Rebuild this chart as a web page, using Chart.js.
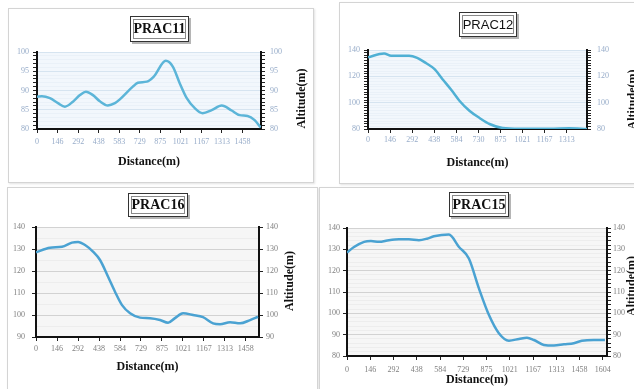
<!DOCTYPE html>
<html>
<head>
<meta charset="utf-8">
<script src="https://cdn.jsdelivr.net/npm/chart.js@4.4.0/dist/chart.umd.min.js"></script>
<style>
  body { margin: 0; width: 634px; height: 389px; overflow: hidden; position: relative; background: #fff; }
  .panel { position: absolute; box-sizing: border-box; border: 1px solid #d4d4d4; background: #fff; box-shadow: 1px 1px 2px #e2e2e2; }
  .panel canvas { position: absolute; left: 0; top: 0; }
  .ttl { position: absolute; box-sizing: border-box; border: 1px solid #333; background: #fff;
         box-shadow: inset 0 0 0 2px #fff, inset 0 0 0 3px #8a8a8a, 2px 2px 0 #b5b5b5;
         display: flex; align-items: center; justify-content: center; color: #111; }
  .serif { font: bold 14px "Liberation Serif", serif; }
  .sans { font: 13px "Liberation Sans", sans-serif; }
</style>
</head>
<body>
<div class="panel" id="p1"><canvas id="c1"></canvas></div>
<div class="panel" id="p2"><canvas id="c2"></canvas></div>
<div class="panel" id="p3"><canvas id="c3"></canvas></div>
<div class="panel" id="p4"><canvas id="c4"></canvas></div>
<div class="ttl serif" style="left:130px;top:16px;width:59px;height:26px">PRAC11</div>
<div class="ttl sans" style="left:459px;top:12px;width:58px;height:25px">PRAC12</div>
<div class="ttl serif" style="left:128px;top:193px;width:60px;height:24px">PRAC16</div>
<div class="ttl serif" style="left:449px;top:192px;width:60px;height:25px">PRAC15</div>
<script>
// ---- data ----
// PRAC11
const prac11Dist = [0, 35, 92, 149, 198, 255, 305, 347, 397, 446, 503, 553, 588, 680, 716, 780, 829, 914, 964, 1013, 1063, 1120, 1176, 1240, 1311, 1382, 1439, 1495, 1545, 1588];
const prac11Alt = [88.4, 88.5, 88, 86.7, 85.8, 87.1, 88.8, 89.7, 88.8, 87.2, 86.1, 86.7, 87.7, 91, 92, 92.3, 93.6, 97.7, 96.2, 91.9, 88, 85.4, 84.1, 84.9, 86.1, 84.8, 83.6, 83.4, 82.3, 80.4];
const prac11XTicks = [0, 146, 292, 438, 583, 729, 875, 1021, 1167, 1313, 1458];
const prac11YTicks = [80, 85, 90, 95, 100];

// PRAC12
const prac12Dist = [0, 106, 153, 272, 325, 385, 438, 491, 551, 604, 670, 737, 803, 889, 1002, 1200, 1330, 1447];
const prac12Alt = [134.4, 137.4, 135.7, 135.7, 134, 129.9, 125.6, 118, 109.6, 101.5, 93.9, 88.4, 83.8, 80.8, 80.2, 80.2, 80.5, 80];
const prac12XTicks = [0, 146, 292, 438, 584, 730, 875, 1021, 1167, 1313];
const prac12YTicks = [80, 100, 120, 140];

// PRAC16
const prac16Dist = [0, 97, 181, 250, 292, 341, 396, 445, 501, 549, 598, 654, 723, 793, 862, 918, 966, 1022, 1092, 1161, 1231, 1279, 1349, 1418, 1488, 1543];
const prac16Alt = [128.5, 130.6, 131, 132.9, 133.2, 131.8, 128.8, 125, 117.4, 110.6, 104.5, 100.8, 98.8, 98.5, 97.7, 96.5, 98.6, 100.8, 100, 99, 96.2, 95.8, 96.7, 96.2, 97.7, 99.2];
const prac16XTicks = [0, 146, 292, 438, 584, 729, 875, 1021, 1167, 1313, 1458];
const prac16YTicks = [90, 100, 110, 120, 130, 140];

// PRAC15
const prac15Dist = [0, 44, 107, 150, 200, 263, 326, 388, 451, 501, 545, 639, 702, 764, 827, 890, 952, 1015, 1078, 1128, 1172, 1234, 1297, 1360, 1422, 1472, 1547, 1617];
const prac15Alt = [128.5, 131.1, 133.5, 133.9, 133.5, 134.3, 134.7, 134.7, 134.3, 135, 136.1, 136.9, 131.1, 125.7, 111.7, 99.2, 90.7, 87.2, 88, 88.6, 87.5, 85.2, 84.9, 85.5, 86, 87.1, 87.5, 87.5];
const prac15XTicks = [0, 146, 292, 438, 584, 729, 875, 1021, 1167, 1313, 1458, 1604];
const prac15YTicks = [80, 90, 100, 110, 120, 130, 140];

// plot area background + axis titles
const profilePlugin = {
    id: 'profile',
    beforeDraw(chart, args, opts) {
        const a = chart.chartArea, c = chart.ctx;
        c.save();
        c.fillStyle = opts.bg;
        c.fillRect(a.left, a.top, a.right - a.left, a.bottom - a.top);
        c.restore();
    },
    afterDraw(chart, args, opts) {
        const a = chart.chartArea, c = chart.ctx;
        c.save();
        c.fillStyle = '#111';
        c.font = 'bold 12px "Liberation Serif", serif';
        c.textAlign = 'center';
        c.textBaseline = 'middle';
        c.fillText('Distance(m)', (a.left + a.right) / 2, a.bottom + opts.xTitleDy);
        c.translate(a.right + opts.yTitleDx, (a.top + a.bottom) / 2 + opts.yTitleDy);
        c.rotate(-Math.PI / 2);
        c.fillText('Altitude(m)', 0, 0);
        c.restore();
    }
};

function makeProfile(cfg) {
    const panel = document.getElementById(cfg.panel);
    panel.style.left = cfg.box.x + 'px';
    panel.style.top = cfg.box.y + 'px';
    panel.style.width = cfg.box.w + 'px';
    panel.style.height = cfg.box.h + 'px';
    const cw = cfg.box.w - 2, ch = cfg.box.h - 2;
    const ox = cfg.box.x + 1, oy = cfg.box.y + 1;
    const canvas = document.getElementById(cfg.canvas);
    canvas.width = cw;
    canvas.height = ch;

    const leftW = cfg.plot.l - ox;
    const rightW = ox + cw - cfg.plot.r;
    const topPad = cfg.plot.t - oy;
    const bottomH = oy + ch - cfg.plot.b;

    const yMin = cfg.yTicks[0], yMax = cfg.yTicks[cfg.yTicks.length - 1];
    const allY = [];
    for (let v = yMin; v <= yMax + 1e-9; v += cfg.minorStep) allY.push(v);
    const isMajor = v => cfg.yTicks.indexOf(v) !== -1;

    const blue = cfg.theme === 'blue';
    const labelColor = blue ? '#97acc9' : '#808080';
    const majorGrid = blue ? '#d6e4f0' : '#d2d2d2';
    const minorGrid = blue ? 'rgba(214,228,240,0.3)' : '#ededed';
    const tickFont = { family: '"Liberation Serif", serif', size: 8 };

    const yAxis = (pos, minorTicks, pad, width) => ({
        type: 'linear',
        position: pos,
        min: yMin,
        max: yMax,
        afterBuildTicks: s => { s.ticks = allY.map(v => ({ value: v })); },
        afterFit: s => { s.width = width; },
        border: { color: '#111', width: 2 },
        grid: {
            drawOnChartArea: pos === 'left',
            color: ctx => isMajor(ctx.tick.value) ? majorGrid : minorGrid,
            tickLength: 4,
            tickColor: ctx => (minorTicks || isMajor(ctx.tick.value)) ? '#222' : 'rgba(0,0,0,0)'
        },
        ticks: {
            autoSkip: false,
            padding: pad,
            color: labelColor,
            font: tickFont,
            callback: v => isMajor(v) ? String(v) : ''
        }
    });

    return new Chart(canvas, {
        type: 'line',
        data: {
            datasets: [{
                data: cfg.dist.map((d, i) => ({ x: d, y: cfg.alt[i] })),
                borderColor: cfg.lineColor,
                borderWidth: 2.5,
                pointRadius: 0,
                fill: false,
                cubicInterpolationMode: 'monotone',
                yAxisID: 'y'
            }]
        },
        options: {
            responsive: false,
            animation: false,
            devicePixelRatio: 1,
            layout: { padding: { top: topPad, left: 0, right: 0, bottom: 0 } },
            plugins: {
                legend: { display: false },
                tooltip: { enabled: false },
                profile: { bg: blue ? '#f2f7fc' : '#f6f6f6', xTitleDy: cfg.xTitleDy, yTitleDx: cfg.yTitleDx, yTitleDy: cfg.yTitleDy }
            },
            scales: {
                x: {
                    type: 'linear',
                    min: 0,
                    max: cfg.xMax,
                    afterBuildTicks: s => { s.ticks = cfg.xTicks.map(v => ({ value: v })); },
                    afterFit: s => { s.height = bottomH; },
                    border: { color: '#111', width: 2 },
                    grid: { drawOnChartArea: false, tickLength: 4, tickColor: '#222' },
                    ticks: {
                        autoSkip: false,
                        maxRotation: 0,
                        padding: cfg.xPad,
                        color: labelColor,
                        font: tickFont,
                        callback: v => String(v)
                    }
                },
                y: yAxis('left', cfg.leftMinor, cfg.yPadL, leftW),
                y2: yAxis('right', cfg.rightMinor, cfg.yPadR, rightW)
            }
        },
        plugins: [profilePlugin]
    });
}

makeProfile({
    panel: 'p1', canvas: 'c1', theme: 'blue', lineColor: '#5cb5d8',
    box: { x: 8, y: 8, w: 306, h: 175 }, plot: { l: 37, t: 52, r: 261, b: 129 },
    dist: prac11Dist, alt: prac11Alt, xTicks: prac11XTicks, yTicks: prac11YTicks,
    xMax: 1590, minorStep: 1, leftMinor: true, rightMinor: true,
    yPadL: 4, yPadR: 5, xPad: 4, xTitleDy: 33, yTitleDx: 41, yTitleDy: 8
});
makeProfile({
    panel: 'p2', canvas: 'c2', theme: 'blue', lineColor: '#4fb0d4',
    box: { x: 339, y: 2, w: 310, h: 182 }, plot: { l: 368, t: 50, r: 587, b: 129 },
    dist: prac12Dist, alt: prac12Alt, xTicks: prac12XTicks, yTicks: prac12YTicks,
    xMax: 1447, minorStep: 2, leftMinor: true, rightMinor: true,
    yPadL: 4, yPadR: 6, xPad: 2, xTitleDy: 34, yTitleDx: 46, yTitleDy: 10
});
makeProfile({
    panel: 'p3', canvas: 'c3', theme: 'gray', lineColor: '#4aa2d2',
    box: { x: 7, y: 187, w: 311, h: 210 }, plot: { l: 36, t: 227, r: 259, b: 337 },
    dist: prac16Dist, alt: prac16Alt, xTicks: prac16XTicks, yTicks: prac16YTicks,
    xMax: 1550, minorStep: 5, leftMinor: false, rightMinor: false,
    yPadL: 7, yPadR: 3, xPad: 3, xTitleDy: 30, yTitleDx: 31, yTitleDy: -1
});
makeProfile({
    panel: 'p4', canvas: 'c4', theme: 'gray', lineColor: '#4aa2d2',
    box: { x: 319, y: 187, w: 330, h: 210 }, plot: { l: 347, t: 228, r: 607, b: 356 },
    dist: prac15Dist, alt: prac15Alt, xTicks: prac15XTicks, yTicks: prac15YTicks,
    xMax: 1630, minorStep: 2, leftMinor: false, rightMinor: true,
    yPadL: 3, yPadR: 2, xPad: 5, xTitleDy: 24, yTitleDx: 25, yTitleDy: -6
});
</script>
</body>
</html>
